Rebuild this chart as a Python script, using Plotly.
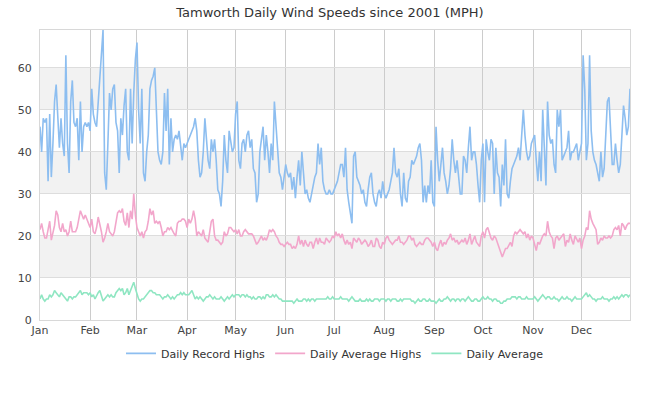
import pandas as pd
import plotly.graph_objects as go

# daily values, one list per month (leap year, 366 days)
rec_jan = [46, 40, 48, 47, 48, 33, 49, 34, 42, 52, 56, 48, 41, 48, 42, 39, 63, 42, 35, 52, 57, 47, 46, 48, 38, 52, 40, 46, 47, 46, 47]
rec_feb = [45, 55, 49, 47, 46, 52, 57, 64, 69, 35, 31, 42, 54, 50, 55, 56, 47, 45, 35, 48, 44, 51, 55, 40, 38, 55, 42, 54, 62]
rec_mar = [66, 50, 42, 55, 35, 33, 40, 44, 55, 57, 58, 60, 50, 40, 38, 37, 40, 54, 45, 55, 37, 48, 40, 43, 44, 43, 45, 41, 38, 42, 41]
rec_apr = [42, 43, 44, 45, 46, 48, 45, 38, 34, 35, 40, 48, 42, 38, 36, 43, 40, 43, 38, 31, 30, 27, 33, 44, 38, 35, 45, 42, 40, 41]
rec_may = [49, 52, 38, 36, 42, 43, 40, 44, 45, 41, 43, 36, 35, 28, 30, 40, 43, 46, 38, 44, 40, 35, 42, 38, 52, 46, 40, 35, 34, 31, 34]
rec_jun = [37, 35, 34, 35, 31, 34, 29, 34, 38, 32, 40, 35, 30, 31, 29, 28, 30, 32, 34, 35, 42, 37, 41, 33, 31, 30, 30, 31, 30, 30]
rec_jul = [31, 32, 33, 35, 37, 37, 34, 41, 31, 28, 25, 23, 39, 40, 34, 33, 32, 30, 31, 28, 27, 31, 34, 35, 30, 28, 27, 30, 31, 29, 33]
rec_aug = [30, 29, 30, 31, 33, 35, 41, 35, 34, 36, 30, 27, 35, 29, 28, 33, 34, 38, 37, 38, 39, 41, 42, 38, 28, 32, 28, 32, 30, 38, 28]
rec_sep = [27, 46, 38, 33, 37, 41, 35, 33, 30, 32, 36, 43, 38, 35, 38, 34, 30, 30, 39, 38, 35, 41, 46, 38, 40, 40, 37, 32, 28, 38]
rec_oct = [42, 28, 43, 40, 38, 43, 42, 30, 41, 35, 34, 27, 37, 32, 43, 30, 29, 33, 36, 37, 38, 39, 41, 38, 44, 50, 44, 40, 38, 39, 42]
rec_nov = [43, 44, 38, 33, 40, 33, 50, 40, 32, 52, 44, 42, 43, 37, 35, 50, 46, 50, 38, 39, 40, 41, 45, 38, 40, 40, 41, 42, 38, 40]
rec_dec = [42, 63, 55, 38, 42, 63, 45, 40, 38, 37, 35, 33, 40, 34, 36, 45, 52, 53, 44, 37, 37, 42, 38, 35, 37, 45, 51, 48, 44, 46, 55]

avg_hi_jan = [21.5, 23, 21, 19.5, 19.5, 22, 23.5, 19, 21, 22.5, 26, 25, 22, 21, 23, 21, 21.5, 20, 21, 23.5, 21, 21, 21, 22, 24, 26, 25, 24, 25, 24, 23]
avg_hi_feb = [22, 24, 21, 20.5, 22, 24.5, 23, 21, 18.5, 19.5, 21, 23, 21, 20.5, 20, 21, 23, 25.5, 26, 25.5, 26.5, 23.5, 22.5, 25.5, 22, 26, 24, 30, 25]
avg_hi_mar = [22, 21, 20, 21, 19.5, 21, 21.5, 23.5, 26.5, 25, 26, 23, 23.5, 23, 23.5, 22, 20, 21, 21, 22, 21.5, 22, 21, 20.5, 20, 23, 23.5, 23.5, 24, 24, 23.5]
avg_hi_apr = [22, 24, 23, 24, 26, 24, 20, 21, 20.5, 20, 21.5, 19.5, 19, 18.5, 21, 23.5, 24, 20, 19, 19, 18.5, 18, 18.5, 21, 20, 20.5, 22, 22, 21.5, 21]
avg_hi_may = [21.5, 20.5, 21.5, 20, 20, 21, 21.5, 21, 20.5, 20.5, 20.5, 20, 19, 18, 18.5, 19.5, 20, 19, 19.5, 19, 20, 21.5, 21, 21.5, 21, 20, 19.5, 18.5, 18, 18, 17.5]
avg_hi_jun = [18, 18.5, 18, 18, 17, 17.5, 17, 18, 20, 18, 19, 17.5, 19, 18, 17.5, 18.5, 18.5, 17, 18.5, 19.5, 18, 19.5, 18.5, 18.5, 18, 19.5, 19, 18.5, 19, 20]
avg_hi_jul = [19.5, 21, 20, 20.5, 19.5, 20.5, 19, 18, 19, 18, 18.5, 17, 19.5, 19, 18.5, 19.5, 19, 18, 18.5, 19, 18.5, 17.5, 18, 19, 17.5, 17.5, 19.5, 19, 17.5, 17, 18.5]
avg_hi_aug = [18, 19.5, 20, 19, 18.5, 18, 18.5, 19, 19, 20, 18.5, 18.5, 18, 18.5, 19, 20, 20, 19, 19.5, 18, 17.5, 18, 18.5, 18, 18, 19, 19.5, 19.5, 19, 18.5, 17.5]
avg_hi_sep = [18.5, 17, 16.5, 18, 19, 17.5, 18.5, 18, 19, 19.5, 20.5, 19, 19.5, 18.5, 19, 18, 18.5, 19, 18.5, 19.5, 18, 19, 20.5, 18, 19, 20, 18.5, 18, 17.5, 20]
avg_hi_oct = [21, 19.5, 21.5, 22, 20.5, 19.5, 19, 20, 19.5, 18.5, 17, 16, 15, 16, 17, 17, 18, 18.5, 17.5, 20, 21, 20.5, 21, 21.5, 21, 20.5, 21, 19.5, 20.5, 19, 20]
avg_hi_nov = [19.5, 18, 16.5, 18.5, 18, 19, 20, 20.5, 20, 23.5, 21, 20, 19.5, 17, 19.5, 20, 19, 19.5, 20, 20.5, 17.5, 19, 18.5, 20.5, 19, 18, 20, 19, 18.5, 19.5]
avg_hi_dec = [17, 19, 20, 22, 21.5, 26, 24, 23, 22, 21.5, 18, 18.5, 19.5, 19, 20, 19.5, 19.5, 20, 19.5, 20, 21.5, 22, 21.5, 22.5, 20, 23, 22.5, 21.5, 22.5, 23, 23]

avg_jan = [5, 6, 5, 4.5, 5, 5, 6, 5.5, 6, 7, 6.5, 6, 5.5, 6.5, 6, 5.5, 5, 4.5, 5.5, 5.5, 5, 5.5, 5.5, 6, 6.5, 7, 6, 6.5, 6.5, 6.5, 6]
avg_feb = [6.5, 5.5, 6, 5, 6, 6.5, 7, 5.5, 4.5, 5, 5.5, 6, 5.5, 6, 5.5, 5.5, 6.5, 7, 7.5, 7, 7.5, 6, 6.5, 7.5, 6, 7, 8, 9, 7.5]
avg_mar = [6, 5, 4.5, 5, 5, 5.5, 6, 6.5, 7, 7, 6.5, 6.5, 6, 6, 6, 5.5, 5, 5.5, 5.5, 6, 5.5, 5, 5.5, 5, 5.5, 6, 6, 6.5, 6, 6.5, 6]
avg_apr = [6, 6, 6.5, 7, 6, 5, 5.5, 5, 5.5, 5, 4.5, 5, 5.5, 5.5, 6, 5.5, 5, 5.5, 5, 5, 5, 5.5, 5, 4.5, 5, 5.5, 5, 5.5, 6, 5.5]
avg_may = [6, 6, 6, 5.5, 6, 6, 5.5, 6, 5.5, 5.5, 5, 5.5, 5, 5, 5.5, 5.5, 5, 5.5, 5, 6, 6, 5.5, 5.5, 6, 5.5, 6, 5.5, 5, 5, 4.5, 4.5]
avg_jun = [4.5, 4.5, 4.5, 4.5, 4.5, 4, 4.5, 5, 4.5, 4.5, 4.5, 5, 5, 4.5, 5, 4.5, 5, 5, 4.5, 5, 5, 5, 5, 5, 5, 5, 5.5, 5, 5, 5.5]
avg_jul = [5, 5, 5, 5, 5.5, 5, 5, 5, 5, 4.5, 5, 5.5, 5, 4.5, 4.5, 4.5, 5, 4.5, 4.5, 4.5, 5, 4.5, 5, 4.5, 4.5, 5, 5, 5, 4.5, 5, 5]
avg_aug = [5, 4.5, 5, 5, 4.5, 5, 5, 5, 4.5, 4.5, 5, 4.5, 5, 5, 5, 5, 5, 4.5, 4.5, 4, 4.5, 5, 4.5, 4.5, 5, 5, 4.5, 4.5, 5, 4.5, 4.5]
avg_sep = [4.5, 4, 4.5, 5, 4.5, 4.5, 5, 5, 5.5, 5, 4.5, 5, 5, 4.5, 5, 5, 4.5, 5, 5, 4.5, 5, 5.5, 5, 4.5, 4.5, 5, 5, 4.5, 4.5, 5]
avg_oct = [5.5, 5, 5, 5.5, 5, 5, 4.5, 5, 5, 4.5, 4.5, 4, 4, 4.5, 4.5, 5, 5, 5, 5.5, 5.5, 5.5, 5, 5.5, 5.5, 5, 5, 5, 5.5, 5, 5, 5]
avg_nov = [5, 5.5, 5, 4.5, 5, 5.5, 6, 5.5, 5, 5.5, 5.5, 5, 5, 5.5, 5, 5, 4.5, 5, 5.5, 5, 5, 5.5, 5, 5, 4.5, 5, 5.5, 5, 5, 5]
avg_dec = [5, 5.5, 6, 6.5, 5.5, 6, 5.5, 5, 5, 4.5, 5, 5, 5, 5.5, 5, 5, 5, 4.5, 5, 5, 5.5, 5, 5.5, 5, 5.5, 6, 5.5, 6, 6, 5.5, 6]

record_highs = (rec_jan + rec_feb + rec_mar + rec_apr + rec_may + rec_jun
                + rec_jul + rec_aug + rec_sep + rec_oct + rec_nov + rec_dec)
average_highs = (avg_hi_jan + avg_hi_feb + avg_hi_mar + avg_hi_apr + avg_hi_may + avg_hi_jun
                 + avg_hi_jul + avg_hi_aug + avg_hi_sep + avg_hi_oct + avg_hi_nov + avg_hi_dec)
averages = (avg_jan + avg_feb + avg_mar + avg_apr + avg_may + avg_jun
            + avg_jul + avg_aug + avg_sep + avg_oct + avg_nov + avg_dec)

days = pd.date_range("2000-01-01", "2000-12-31", freq="D")
assert len(days) == len(record_highs) == len(average_highs) == len(averages)

fig = go.Figure()

series = [("Daily Record Highs", record_highs, "#8dbef0"),
          ("Daily Average Highs", average_highs, "#f2a6cb"),
          ("Daily Average", averages, "#8fe6c2")]

for name, vals, col in series:
    fig.add_trace(go.Scatter(x=days, y=vals, name=name, mode="lines",
                             line=dict(color=col, width=1.6)))

# grey bands on every second 10 mph step
for lo in range(10, 70, 20):
    fig.add_hrect(y0=lo, y1=lo + 10, fillcolor="#f2f2f2", line_width=0, layer="below")

fig.update_layout(
    title=dict(text="Tamworth Daily Wind Speeds since 2001 (MPH)", x=0.5, y=0.97,
               yanchor="middle", font=dict(size=13, color="#333")),
    font=dict(family="DejaVu Sans", size=11, color="#444"),
    paper_bgcolor="white",
    plot_bgcolor="white",
    width=660, height=400,
    margin=dict(l=40, r=30, t=30, b=80),
    showlegend=True,
    legend=dict(orientation="h", x=0.5, xanchor="center", y=-0.065, yanchor="top",
                font=dict(size=11, color="#333")),
)
fig.update_xaxes(type="date", range=["2000-01-01", "2000-12-31"], dtick="M1",
                 tickformat="%b", showgrid=True, gridcolor="#cccccc",
                 showline=True, linecolor="#d8d8d8", mirror=True, ticks="")
fig.update_yaxes(range=[0, 69], dtick=10, showgrid=True, gridcolor="#dddddd",
                 zeroline=False, showline=True, linecolor="#d8d8d8", mirror=True,
                 ticklabelstandoff=5)

# the page's default body margin would push the figure 8px off
fig.write_html("out.html", config={"displayModeBar": False},
               post_script="document.body.style.margin = '0px';")
